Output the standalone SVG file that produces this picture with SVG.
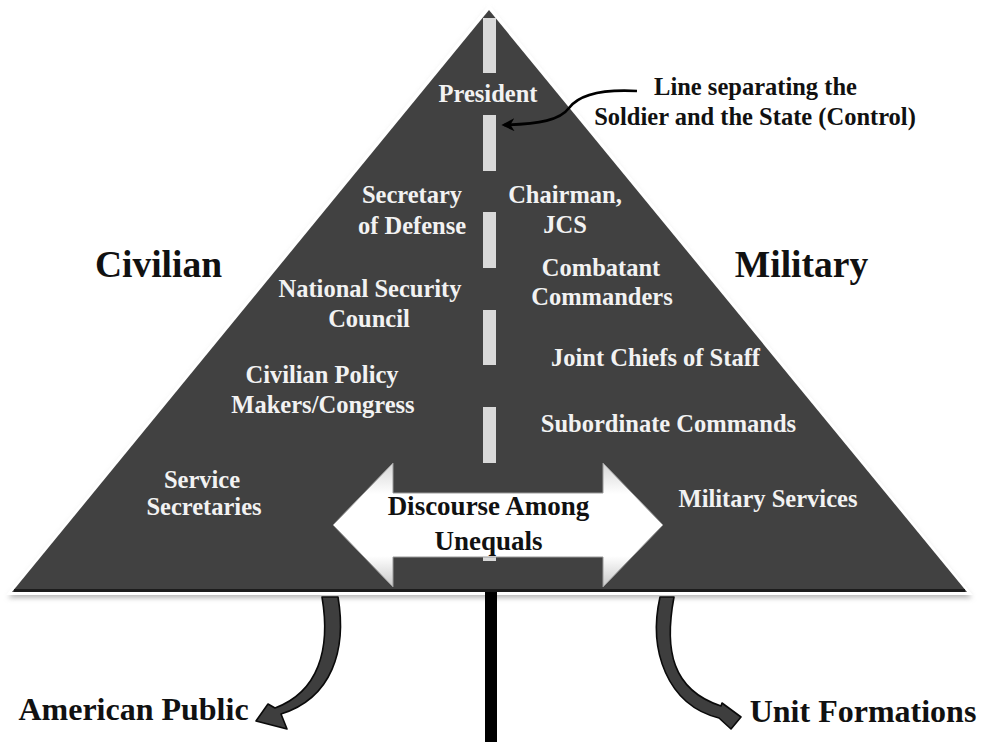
<svg xmlns="http://www.w3.org/2000/svg" width="984" height="742" viewBox="0 0 984 742">
  <style>
    .w { font-family: "Liberation Serif", "Times New Roman", serif; font-weight: bold; fill: #f2f2f2; text-anchor: middle; font-size: 24.5px; }
    .b { font-family: "Liberation Serif", "Times New Roman", serif; font-weight: bold; fill: #111; text-anchor: middle; }
    .dash { fill: #d9d9d9; }
    .bend { fill: #3e3e3e; stroke: #0a0a0a; stroke-width: 1.6; stroke-linejoin: round; }
  </style>
  <defs>
    <filter id="soft" x="-5%" y="-5%" width="110%" height="110%">
      <feGaussianBlur stdDeviation="2.5"/>
    </filter>
    <linearGradient id="arrowFill" x1="0" y1="0" x2="0" y2="1">
      <stop offset="0" stop-color="#d6d6d6"/>
      <stop offset="0.25" stop-color="#ffffff"/>
      <stop offset="0.75" stop-color="#ffffff"/>
      <stop offset="1" stop-color="#c8c8c8"/>
    </linearGradient>
    <marker id="tip" viewBox="0 0 10 10" refX="8" refY="5" markerWidth="5" markerHeight="5" orient="auto-start-reverse">
      <path d="M0 0 L10 5 L0 10 L3 5 Z" fill="#000"/>
    </marker>
  </defs>

  <rect width="984" height="742" fill="#ffffff"/>

  <!-- pyramid body with white rim and soft drop shadow -->
  <g id="pyramid">
    <polygon points="489,9 8,598 972,598" fill="#b8b8b8" filter="url(#soft)"/>
    <polygon points="489,4 6,595 973,595" fill="#ffffff"/>
    <polygon points="489,10 12,592 967,592" fill="#414141"/>
    <line x1="14" y1="590.5" x2="965" y2="590.5" stroke="#1c1c1c" stroke-width="3"/>
  </g>

  <!-- dividing line: dashes inside, solid bar below -->
  <g id="divider">
    <rect x="485" y="592" width="12" height="150" fill="#000"/>
    <rect class="dash" x="483" y="18" width="13" height="55"/>
    <rect class="dash" x="483" y="115" width="13" height="56"/>
    <rect class="dash" x="483" y="212" width="13" height="56"/>
    <rect class="dash" x="483" y="310" width="13" height="55"/>
    <rect class="dash" x="483" y="407" width="13" height="56"/>
    <rect class="dash" x="483" y="504" width="13" height="57"/>
  </g>

  <g id="connectors">
    <!-- callout pointing at the dividing line -->
    <path d="M637 91 C600 89 578 96 569 108 C560 120 540 124 504 125" fill="none" stroke="#000" stroke-width="2.6" marker-end="url(#tip)"/>
    <!-- bend arrow down to the public -->
    <path class="bend" d="M322 597 L338 597 C347 650 332 698 281 714 L287 729 L256 721 L268 704 L275 708 C318 692 331 650 322 597 Z"/>
    <!-- bend arrow down to unit formations -->
    <path class="bend" d="M660 597 L674 597 C664 650 672 690 721 706 L722 703 L741 717 L731 729 L719 718 C667 705 648 650 660 597 Z"/>
  </g>

  <g id="discourse">
    <polygon points="333,525 393,463 393,493 603,493 603,463 663,525 603,587 603,557 393,557 393,587" fill="url(#arrowFill)" stroke="#9a9a9a" stroke-width="1"/>
    <text class="b" x="488.5" y="515" font-size="27">Discourse Among</text>
    <text class="b" x="488.5" y="550" font-size="27">Unequals</text>
  </g>

  <g id="president"><text class="w" x="488" y="102">President</text></g>
  <g id="secdef">
    <text class="w" x="412" y="203" font-size="27.5">Secretary</text>
    <text class="w" x="412" y="234" font-size="27.5">of Defense</text>
  </g>
  <g id="chairman">
    <text class="w" x="565" y="203">Chairman,</text>
    <text class="w" x="565" y="233">JCS</text>
  </g>
  <g id="combatant">
    <text class="w" x="601" y="276">Combatant</text>
    <text class="w" x="602" y="305">Commanders</text>
  </g>
  <g id="nsc">
    <text class="w" x="370" y="297">National Security</text>
    <text class="w" x="369" y="327">Council</text>
  </g>
  <g id="jcs"><text class="w" x="655.5" y="366">Joint Chiefs of Staff</text></g>
  <g id="policy">
    <text class="w" x="322" y="383">Civilian Policy</text>
    <text class="w" x="323" y="413">Makers/Congress</text>
  </g>
  <g id="subordinate"><text class="w" x="668.5" y="432">Subordinate Commands</text></g>
  <g id="service-secretaries">
    <text class="w" x="202" y="488">Service</text>
    <text class="w" x="204" y="515">Secretaries</text>
  </g>
  <g id="military-services"><text class="w" x="768" y="507">Military Services</text></g>

  <g id="civilian"><text class="b" x="158.5" y="277" font-size="37.5">Civilian</text></g>
  <g id="military"><text class="b" x="801.5" y="277" font-size="37.5">Military</text></g>

  <g id="callout">
    <text class="b" x="755.5" y="95" font-size="24.5">Line separating the</text>
    <text class="b" x="755" y="125" font-size="24.5">Soldier and the State (Control)</text>
  </g>

  <g id="public"><text class="b" x="133.5" y="720" font-size="32">American Public</text></g>
  <g id="units"><text class="b" x="863" y="722" font-size="32">Unit Formations</text></g>
</svg>
